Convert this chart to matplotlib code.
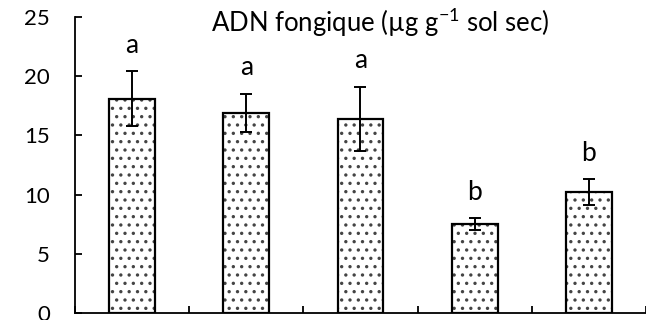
import numpy as np
import matplotlib
matplotlib.use("Agg")
import matplotlib.pyplot as plt

# fungal DNA per treatment, mean and error
treatments = ["T1", "T2", "T3", "T4", "T5"]
dna_mean = [18.1, 16.9, 16.4, 7.5, 10.2]
dna_err = [2.3, 1.6, 2.7, 0.5, 1.1]
groups = ["a", "a", "a", "b", "b"]
yticks = [0, 5, 10, 15, 20, 25]

plt.rcParams['font.family'] = ['Lato', 'DejaVu Sans']
plt.rcParams['mathtext.fontset'] = 'custom'
plt.rcParams['mathtext.rm'] = 'Lato'
plt.rcParams['mathtext.it'] = 'Lato'
plt.rcParams['hatch.linewidth'] = 1.2

fig = plt.figure(figsize=(6.46, 3.2), dpi=100)
ax = fig.add_axes([0.116, 0.022, 0.884, 0.925])

x = np.arange(len(treatments))
# dotted fill first, then the black outline on top
ax.bar(x, dna_mean, width=0.4, color='white', edgecolor='#444444',
       hatch='..', linewidth=0, zorder=2)
ax.bar(x, dna_mean, width=0.4, color='none', edgecolor='black',
       linewidth=1.6, zorder=3)
ax.errorbar(x, dna_mean, yerr=dna_err, fmt='none', ecolor='black',
            elinewidth=1.4, capsize=4.5, capthick=1.4, zorder=4)

for xi, m, e, g in zip(x, dna_mean, dna_err, groups):
    ax.text(xi, m + e + 2.2, g, ha='center', va='center', fontsize=19)

ax.text(2.17, 24.5, r"ADN fongique (µg g$^{\mathregular{-1}}$ sol sec)",
        ha='center', va='center', fontsize=18.5)

ax.set_xlim(-0.5, len(treatments) - 0.5)
ax.set_ylim(0, 25)
ax.set_yticks(yticks)
ax.set_xticks(np.arange(len(treatments) + 1) - 0.5)
ax.set_xticklabels([])
ax.tick_params(axis='y', direction='in', length=5, width=1.3, pad=18,
               labelsize=16)
ax.tick_params(axis='x', direction='in', length=5, width=1.3)
for side in ['top', 'right']:
    ax.spines[side].set_visible(False)
for side in ['left', 'bottom']:
    ax.spines[side].set_linewidth(1.3)

fig.savefig("out.png", dpi=100)
